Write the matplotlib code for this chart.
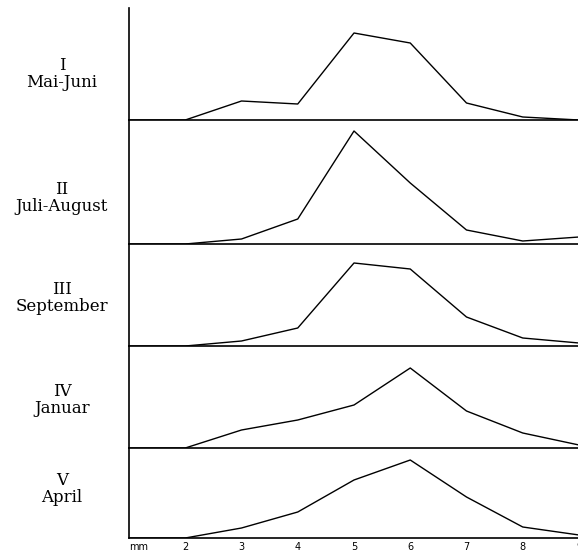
"""
Seasonal size distributions (mm) in five stacked panels.
"""

import matplotlib.pyplot as plt

sizes_mm = [1, 2, 3, 4, 5, 6, 7, 8, 9]
tick_labels = ["mm", "2", "3", "4", "5", "6", "7", "8", "9"]

roman = ["I", "II", "III", "IV", "V"]
months = ["Mai-Juni", "Juli-August", "September", "Januar", "April"]

# heights (same vertical scale in every panel)
mai_juni = [0, 0, 19, 16, 87, 77, 17, 3, 0]
juli_august = [0, 0, 5, 25, 113, 61, 14, 3, 7]
september = [0, 0, 5, 18, 83, 77, 29, 8, 3]
januar = [0, 0, 18, 28, 43, 80, 37, 15, 3]
april = [0, 0, 10, 26, 58, 78, 41, 11, 3]

series = [mai_juni, juli_august, september, januar, april]

# panel heights in the same units as the data
panel_tops = [112, 124, 102, 102, 90]
label_y_px = [74, 198, 298, 400, 489]


def main():
    W, H = 578, 552
    fig = plt.figure(figsize=(W / 100, H / 100), dpi=100)

    left = 129 / W
    right = 579 / W
    top = 1 - 8 / H
    bottom = 1 - 538 / H
    gs = fig.add_gridspec(
        5, 1, height_ratios=panel_tops, hspace=0,
        left=left, right=right, top=top, bottom=bottom,
    )

    for i, values in enumerate(series):
        ax = fig.add_subplot(gs[i])
        ax.plot(sizes_mm, values, color="black", linewidth=1.0)
        ax.set_xlim(1, 9)
        ax.set_ylim(0, panel_tops[i])
        ax.set_yticks([])
        for side in ("top", "right"):
            ax.spines[side].set_visible(False)
        ax.spines["left"].set_linewidth(1.2)
        ax.spines["bottom"].set_linewidth(1.2)
        ax.patch.set_alpha(0)

        if i == len(series) - 1:
            ax.set_xticks(sizes_mm)
            ax.set_xticklabels(tick_labels, fontsize=7, family="DejaVu Sans")
            ax.tick_params(axis="x", length=0, pad=3)
            ax.get_xticklabels()[0].set_horizontalalignment("left")
        else:
            ax.set_xticks([])

        fig.text(
            62 / W, 1 - label_y_px[i] / H, roman[i] + "\n" + months[i],
            ha="center", va="center", family="DejaVu Serif",
            fontsize=12, linespacing=0.95,
        )

    fig.savefig("out.png", dpi=100)


if __name__ == "__main__":
    main()
